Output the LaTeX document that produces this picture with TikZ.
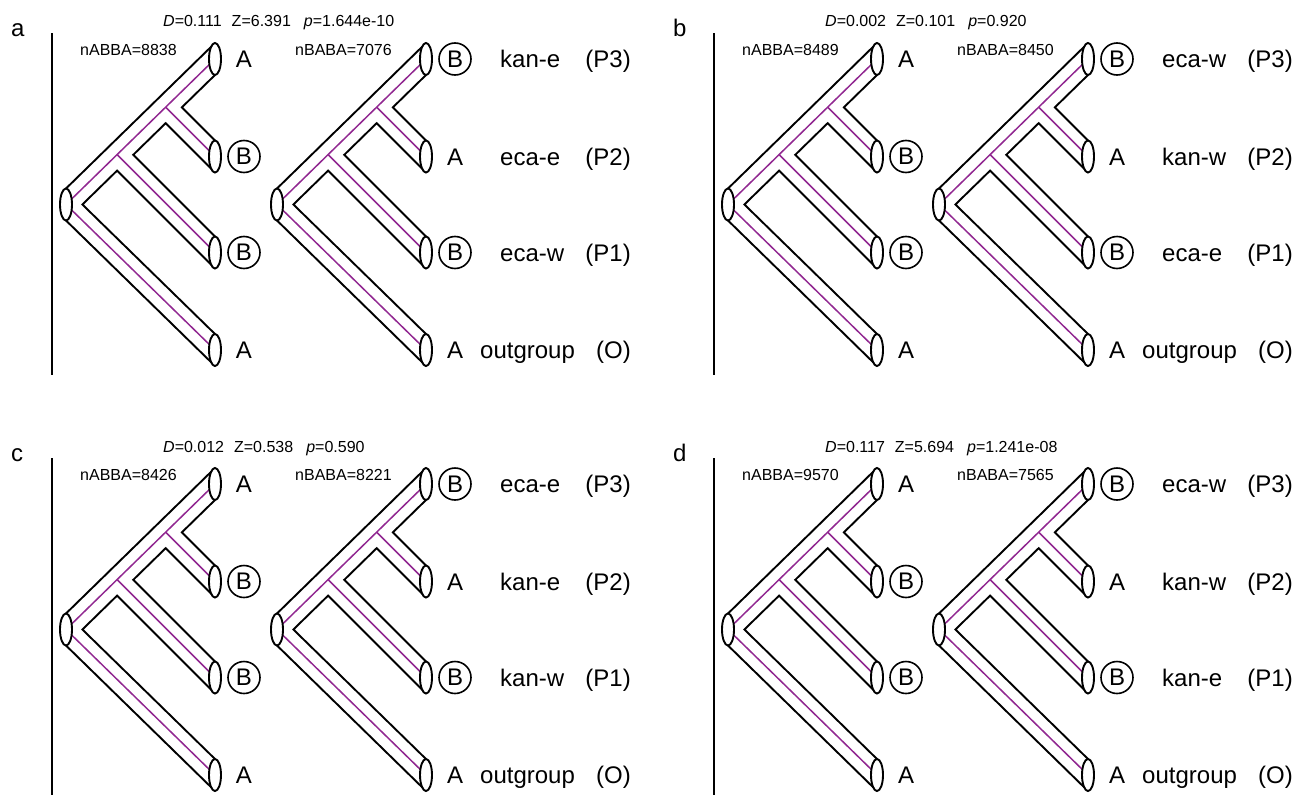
\documentclass[tikz,border=0pt]{standalone}
\usepackage{fontspec}
\setmainfont{Liberation Sans}
\usetikzlibrary{shapes.geometric}
\definecolor{lilac}{RGB}{145,40,145}
\tikzset{
  tubeline/.style={line width=1.9pt, line join=miter},
  midline/.style={line width=1.5pt, draw=lilac},
  endcap/.style={ellipse, draw, fill=white, line width=1.9pt, minimum width=12pt, minimum height=32pt, inner sep=0pt},
  big/.style={font=\fontsize{24}{28}\selectfont},
  small/.style={font=\fontsize{16}{19}\selectfont},
  circB/.style={big, circle, draw, line width=1.6pt, minimum size=32pt, inner sep=0pt},
  barline/.style={line width=1.9pt},
}
\newcommand\tipA[2]{\node[big, anchor=base, yshift=-8.5pt] (#1) at (#2) {A};}
\newcommand\tipB[2]{\node[circB] (#1) at (#2) {B};}
\newcommand\tubetree[7]{%
\begin{scope}[shift={(#2,#3)}]
  \coordinate (#1-r) at (0,0);
  \coordinate (#1-t1) at (149,-145.5);
  \coordinate (#1-t2) at (149,-48);
  \coordinate (#1-t3) at (149,48);
  \coordinate (#1-t4) at (149,145.5);
  \coordinate (#1-j2) at (99.67,-97.33);
  \coordinate (#1-j1) at (51.10,-49.90);
  \draw[midline] (#1-r) -- (#1-t1);
  \draw[midline] (#1-j2) -- (#1-t2);
  \draw[midline] (#1-j1) -- (#1-t3);
  \draw[midline] (#1-r) -- (#1-t4);
  \draw[tubeline] (0,-16) -- (149,-161.5);
  \draw[tubeline] (149,-129.5) -- (115.86,-97.14) -- (149,-64);
  \draw[tubeline] (149,-32) -- (99.67,-81.33) -- (67.29,-49.71) -- (149,32);
  \draw[tubeline] (149,64) -- (51.10,-33.90) -- (16.39,0) -- (149,129.5);
  \draw[tubeline] (149,161.5) -- (0,16);
  \node[endcap] (#1-c0) at (#1-r) {};
  \node[endcap] (#1-c1) at (#1-t1) {};
  \node[endcap] (#1-c2) at (#1-t2) {};
  \node[endcap] (#1-c3) at (#1-t3) {};
  \node[endcap] (#1-c4) at (#1-t4) {};
  #4{#1-l1}{178,-145.5}
  #5{#1-l2}{178,-48}
  #6{#1-l3}{178,48}
  #7{#1-l4}{178,145.5}
\end{scope}}
\begin{document}
\begin{tikzpicture}[x=1pt,y=-1pt]
\useasboundingbox (0,0) rectangle (1307,795);
\foreach \pl/\px/\py/\bb/\Dv/\Zv/\pv/\na/\nb/\sa/\sb/\sc in {
  a/0/0/375/0.111/6.391/1.644e-10/8838/7076/kan-e/eca-e/eca-w,
  b/662/0/375/0.002/0.101/0.920/8489/8450/eca-w/kan-w/eca-e,
  c/0/425/370/0.012/0.538/0.590/8426/8221/eca-e/kan-e/kan-w,
  d/662/425/370/0.117/5.694/1.241e-08/9570/7565/eca-w/kan-w/kan-e}{
  \begin{scope}[shift={(\px,\py)}]
    \node[big, anchor=base west, inner sep=0pt] (\pl-let) at (11,36) {\pl};
    \coordinate (\pl-bt) at (52,33);
    \coordinate (\pl-bb) at (52,\bb);
    \draw[barline] (\pl-bt) -- (\pl-bb);
    \node[small, anchor=base west, inner sep=0pt] (\pl-st) at (163,27)
      {\textit{D}=\Dv\hspace{10pt}Z=\Zv\hspace{13pt}\textit{p}=\pv};
    \node[small, anchor=base west, inner sep=0pt] (\pl-na) at (80,55) {nABBA=\na};
    \node[small, anchor=base west, inner sep=0pt] (\pl-nb) at (295,55) {nBABA=\nb};
    \tubetree{\pl-L}{66}{204.5}{\tipA}{\tipB}{\tipB}{\tipA}
    \tubetree{\pl-R}{277}{204.5}{\tipB}{\tipA}{\tipB}{\tipA}
    \node[big, anchor=base west, inner sep=0pt] (\pl-n3) at (500,67.5) {\sa};
    \node[big, anchor=base west, inner sep=0pt] (\pl-n2) at (500,165) {\sb};
    \node[big, anchor=base west, inner sep=0pt] (\pl-n1) at (500,261) {\sc};
    \node[big, anchor=base west, inner sep=0pt] (\pl-n0) at (480,358.5) {outgroup};
    \node[big, anchor=base east, inner sep=0pt] (\pl-p3) at (631,67.5) {(P3)};
    \node[big, anchor=base east, inner sep=0pt] (\pl-p2) at (631,165) {(P2)};
    \node[big, anchor=base east, inner sep=0pt] (\pl-p1) at (631,261) {(P1)};
    \node[big, anchor=base east, inner sep=0pt] (\pl-p0) at (631,358.5) {(O)};
  \end{scope}
}
\end{tikzpicture}
\end{document}
